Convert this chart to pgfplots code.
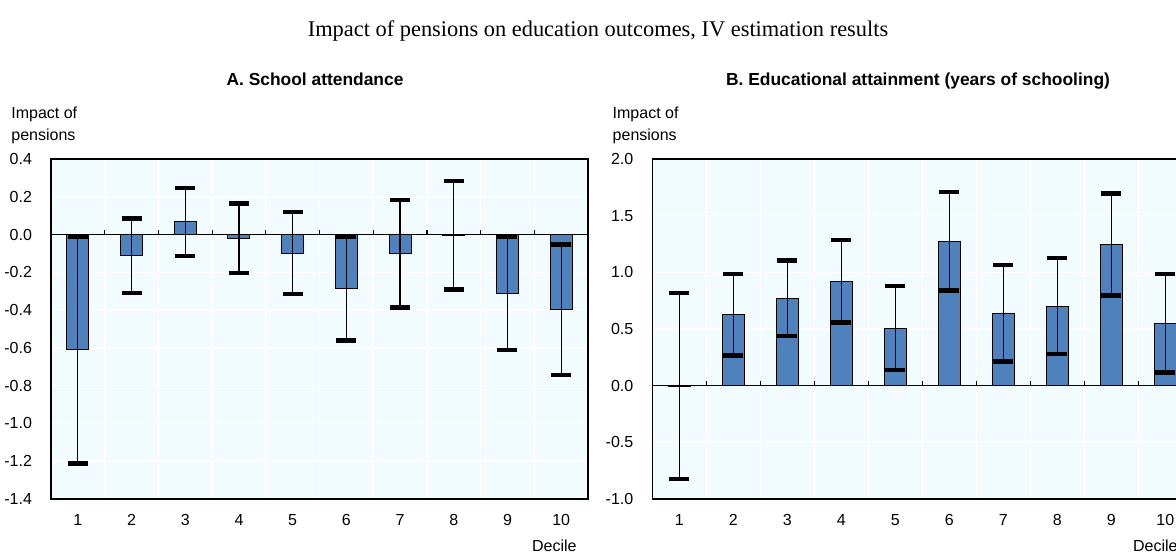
\documentclass[border=0pt]{standalone}
\usepackage{fontspec}
\setmainfont{Liberation Sans}
\newfontfamily\seriffont{Liberation Serif}
\usepackage{pgfplots}
\pgfplotsset{compat=1.18}
\definecolor{bgc}{HTML}{F2FCFF}
\definecolor{barc}{HTML}{4F81BD}
\tikzset{zeroline/.style={black, line width=0.6pt}}

\pgfplotstableread{
x y e
1 -0.611 0.600
2 -0.112 0.196
3 0.068 0.180
4 -0.020 0.185
5 -0.098 0.217
6 -0.286 0.274
7 -0.101 0.285
8 -0.004 0.287
9 -0.310 0.300
10 -0.398 0.346
}\dataA

\pgfplotstableread{
x y e
1 -0.003 0.821
2 0.625 0.359
3 0.771 0.333
4 0.921 0.363
5 0.508 0.372
6 1.274 0.434
7 0.638 0.426
8 0.702 0.424
9 1.246 0.450
10 0.552 0.434
}\dataB

\pgfplotsset{
  panel/.style={
    scale only axis,
    width=268.5pt, height=170pt,
    anchor=south west,
    xmin=0.5, xmax=10.5,
    axis background/.style={fill=bgc},
    axis line style={black, line width=0.8pt},
    xtick={1,...,10},
    minor xtick={1.5,2.5,...,9.5},
    xminorgrids, ymajorgrids,
    major grid style={white, line width=0.8pt},
    minor grid style={white, line width=0.8pt},
    major tick length=0pt, minor tick length=0pt,
    ticklabel style={font=\fontsize{8}{9.6}\selectfont},
    /pgf/number format/assume math mode=true,
    yticklabel style={xshift=-6pt, /pgf/number format/.cd, fixed, fixed zerofill, precision=1},
    xticklabel style={yshift=-4.3pt},
  },
  bars/.style={
    ybar, bar width=11pt, fill=barc, draw=black, line width=0.5pt,
    error bars/.cd, y dir=both, y explicit,
    error mark=|,
    error bar style={line width=0.6pt, black},
    error mark options={line width=2.2pt, mark size=5pt, black},
  },
}

\begin{document}
\begin{tikzpicture}
\useasboundingbox (0,0) rectangle (588pt,277pt);

% Panel A
\begin{axis}[panel, at={(25.5pt,27.5pt)}, ymin=-1.4, ymax=0.4, ytick distance=0.2]
\addplot[bars] table[x=x, y=y, y error=e] {\dataA};
\draw[zeroline] (axis cs:0.5,0) -- (axis cs:10.5,0);
\pgfplotsinvokeforeach{1.5,2.5,3.5,4.5,5.5,6.5,7.5,8.5,9.5}{\draw[zeroline] (axis cs:#1,0) -- ([yshift=2.5pt]axis cs:#1,0);}
\end{axis}

% Panel B
\begin{axis}[panel, at={(326.15pt,27.5pt)}, width=270pt, ymin=-1, ymax=2, ytick distance=0.5]
\addplot[bars] table[x=x, y=y, y error=e] {\dataB};
\draw[zeroline] (axis cs:0.5,0) -- (axis cs:10.5,0);
\pgfplotsinvokeforeach{1.5,2.5,3.5,4.5,5.5,6.5,7.5,8.5,9.5}{\draw[zeroline] (axis cs:#1,0) -- ([yshift=2.5pt]axis cs:#1,0);}
\end{axis}

% Titles
\node[anchor=base, font=\seriffont\fontsize{11.2}{13}\selectfont, inner sep=0] at (299pt,259pt) {Impact of pensions on education outcomes, IV estimation results};
\node[anchor=base, font=\bfseries\fontsize{8.7}{10}\selectfont, inner sep=0] at (157.5pt,234.5pt) {A. School attendance};
\node[anchor=base, font=\bfseries\fontsize{8.7}{10}\selectfont, inner sep=0] at (459pt,234.5pt) {B. Educational attainment (years of schooling)};

% Axis labels
\node[anchor=base west, font=\fontsize{8}{9.6}\selectfont, inner sep=0] at (5.5pt,217.85pt) {Impact of};
\node[anchor=base west, font=\fontsize{8}{9.6}\selectfont, inner sep=0] at (5.5pt,207pt) {pensions};
\node[anchor=base west, font=\fontsize{8}{9.6}\selectfont, inner sep=0] at (306.15pt,217.85pt) {Impact of};
\node[anchor=base west, font=\fontsize{8}{9.6}\selectfont, inner sep=0] at (306.15pt,207pt) {pensions};
\node[anchor=base east, font=\fontsize{8}{9.6}\selectfont, inner sep=0] at (288.5pt,1.3pt) {Decile};
\node[anchor=base east, font=\fontsize{8}{9.6}\selectfont, inner sep=0] at (589pt,1.3pt) {Decile};
\end{tikzpicture}
\end{document}
